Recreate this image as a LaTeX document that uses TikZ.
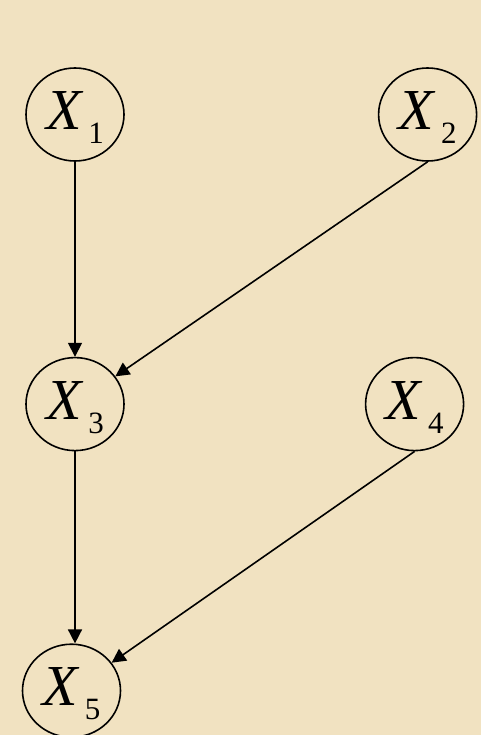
\documentclass[tikz,border=0pt]{standalone}
\usepackage{fontspec}
\setmainfont{Liberation Serif}
\usepackage{tikz}
\usetikzlibrary{shapes.geometric, arrows.meta, positioning}
\definecolor{parchment}{RGB}{241,226,193}

\newcommand{\varlabel}[1]{{\fontsize{58}{58}\selectfont\itshape X}\hspace{7pt}\raisebox{-14pt}{\fontsize{31}{31}\selectfont #1}}

\begin{document}
\begin{tikzpicture}[
            var/.style={ellipse, draw, line width=1.6pt, minimum width=98pt, minimum height=93pt, inner sep=0pt, text height=38pt, text depth=8pt},
            arrow/.style={line width=1.6pt, -{Triangle[length=14pt, width=14pt]}}
          ]

          % Background
          \fill [parchment] (0,0) rectangle (481pt,-735pt);
          \useasboundingbox (0,0) rectangle (481pt,-735pt);

          % Nodes
          \node (x1) [var] at (75pt,-114.5pt) {\varlabel{1}};
          \node (x2) [var, right=253pt of x1] {\varlabel{2}};
          \node (x3) [var, below=195pt of x1] {\varlabel{3}};
          \node (x4) [var, right=240pt of x3] {\varlabel{4}};
          \node (x5) [var, below=192pt of x3, xshift=-3.5pt] {\varlabel{5}};

          % Connections
          \draw [arrow] (x1) -- (x3);
          \draw [arrow] (x2.south) -- (x3);
          \draw [arrow] (x3.south) -- (x3.south |- x5.north);
          \draw [arrow] (x4.south) -- (x5);

        \end{tikzpicture}
\end{document}
